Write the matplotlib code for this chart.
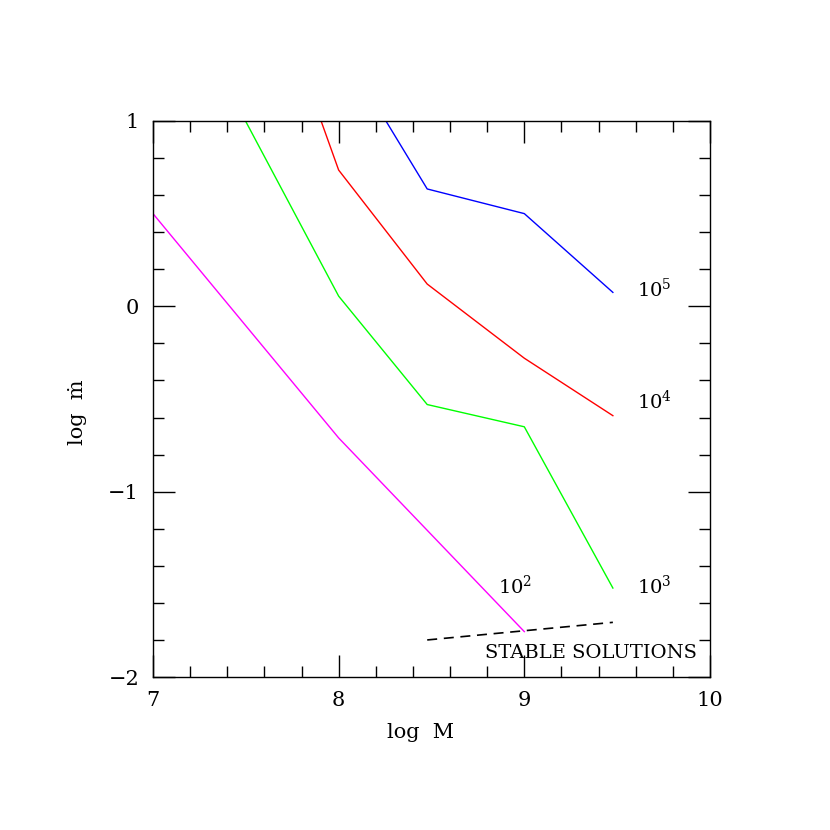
"""Critical accretion-rate curves: log mdot against log M, one line per
label (10^2 .. 10^5), with the stable-solution boundary dashed below."""
import matplotlib
matplotlib.use("Agg")
import matplotlib.pyplot as plt
from matplotlib.ticker import MultipleLocator

plt.rcParams["font.family"] = ["DejaVu Serif"]
plt.rcParams["mathtext.fontset"] = "dejavuserif"

# curve values
m_1e2 = [7.0, 8.0, 9.0]
mdot_1e2 = [0.50, -0.71, -1.755]

m_1e3 = [7.477, 8.0, 8.477, 9.0, 9.477]
mdot_1e3 = [1.04, 0.055, -0.53, -0.65, -1.52]

m_1e4 = [7.477, 8.0, 8.477, 9.0, 9.477]
mdot_1e4 = [2.2, 0.735, 0.12, -0.28, -0.59]

m_1e5 = [8.0, 8.477, 9.0, 9.477]
mdot_1e5 = [1.42, 0.633, 0.50, 0.075]

m_stable = [8.477, 9.477]
mdot_stable = [-1.80, -1.705]

curve_labels = ["10$^2$", "10$^3$", "10$^4$", "10$^5$"]
label_pos = [(8.95, -1.51), (9.7, -1.51), (9.7, -0.51), (9.7, 0.09)]

fig = plt.figure(figsize=(8.3, 8.3), dpi=100)
ax = fig.add_axes([0.1843, 0.1843, 0.6711, 0.670])

ax.plot(m_1e2, mdot_1e2, color="magenta", lw=1)
ax.plot(m_1e3, mdot_1e3, color="#00ff00", lw=1)
ax.plot(m_1e4, mdot_1e4, color="red", lw=1)
ax.plot(m_1e5, mdot_1e5, color="blue", lw=1)
ax.plot(m_stable, mdot_stable, color="black", lw=1.2, ls=(0, (6, 4)))

for text, (x, y) in zip(curve_labels, label_pos):
    ax.text(x, y, text, fontsize=14, ha="center", va="center")
ax.text(9.36, -1.87, "STABLE SOLUTIONS", fontsize=14, ha="center", va="center")

ax.set_xlim(7, 10)
ax.set_ylim(-2, 1)
ax.xaxis.set_major_locator(MultipleLocator(1))
ax.xaxis.set_minor_locator(MultipleLocator(0.2))
ax.yaxis.set_major_locator(MultipleLocator(1))
ax.yaxis.set_minor_locator(MultipleLocator(0.2))
ax.tick_params(which="both", direction="in", top=True, right=True, width=1)
ax.tick_params(which="major", length=16, labelsize=15, pad=10)
ax.tick_params(which="minor", length=8)
ax.yaxis.set_major_formatter(plt.FuncFormatter(lambda v, p: f"{v:.0f}".replace("-", "\u2212")))
for s in ax.spines.values():
    s.set_linewidth(1)

ax.set_xlabel("log  M", fontsize=15)
ax.set_ylabel("log  \u1e41", fontsize=15)
ax.xaxis.set_label_coords(0.481, -0.082)
ax.yaxis.set_label_coords(-0.118, 0.477)

fig.savefig("out.png", dpi=100)
